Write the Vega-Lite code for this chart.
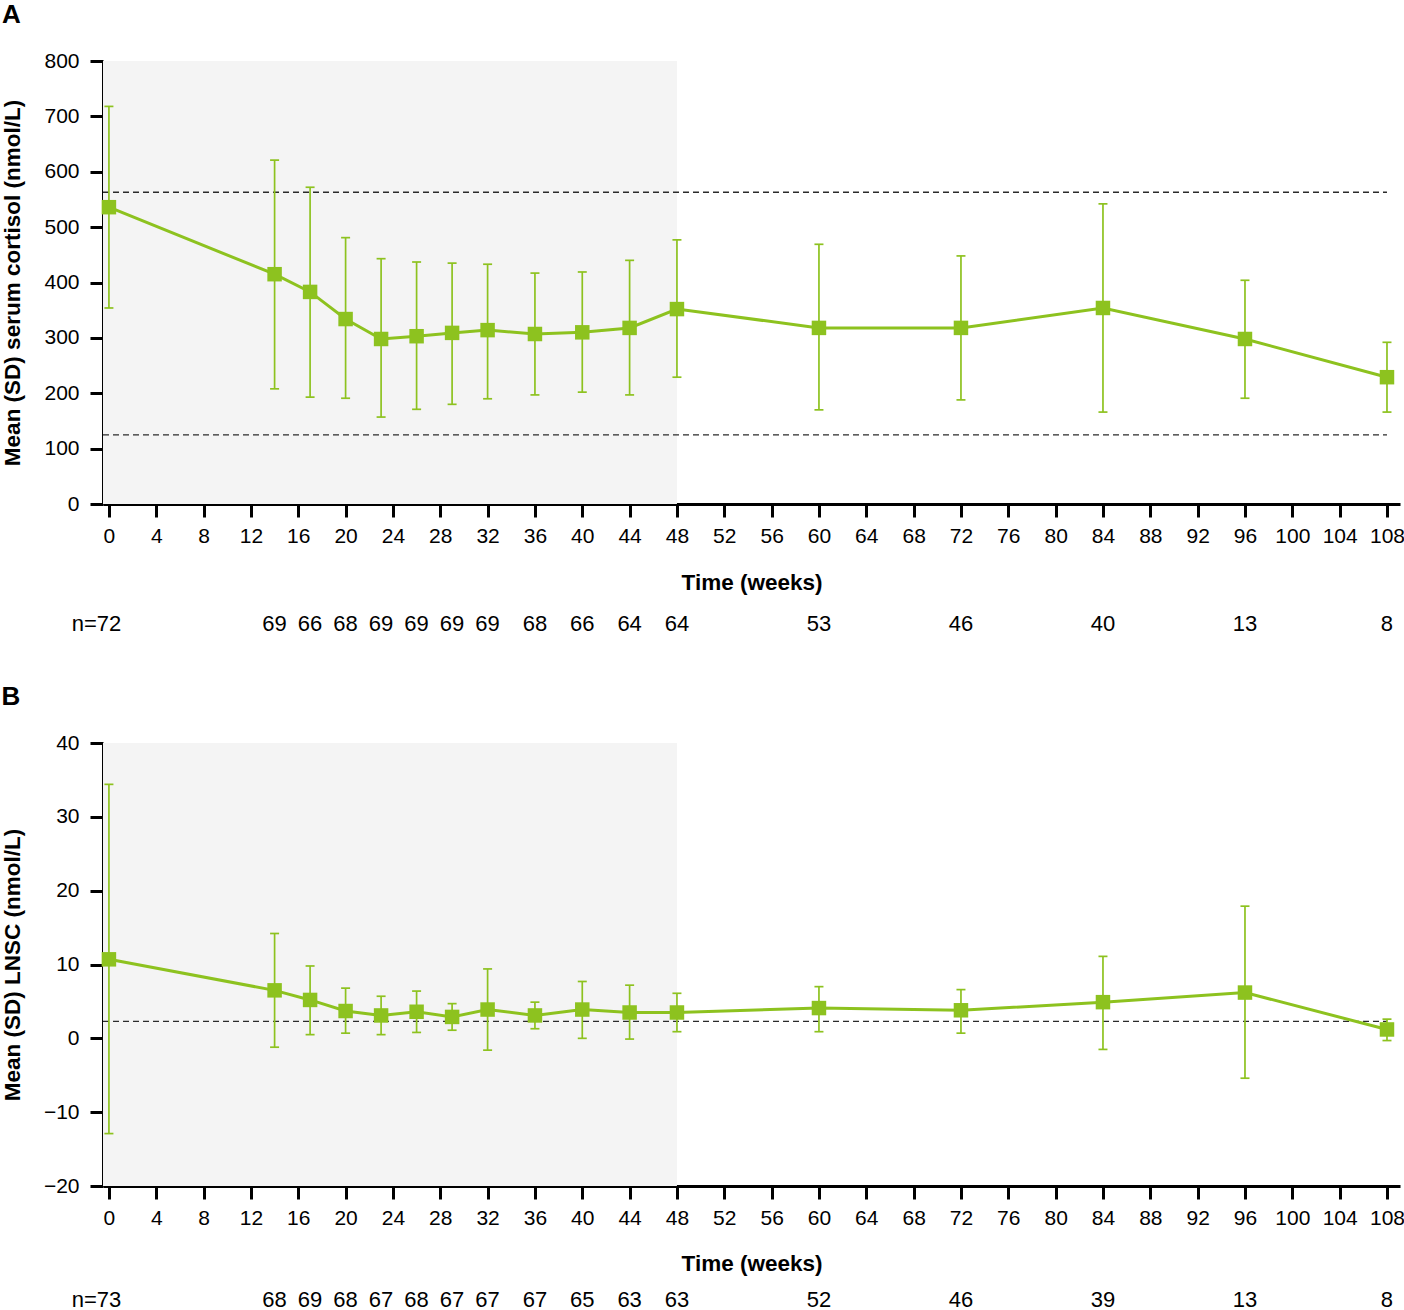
{
  "$schema": "https://vega.github.io/schema/vega-lite/v6.json",
  "background": "white",
  "padding": {"left": 1, "top": 2, "right": 0, "bottom": 0},
  "spacing": 0,
  "config": {
    "font": "Liberation Sans",
    "view": {"stroke": null},
    "axis": {
      "grid": false,
      "domainColor": "black",
      "domainWidth": 3,
      "tickColor": "black",
      "tickWidth": 3,
      "tickSize": 13,
      "labelFontSize": 21,
      "labelColor": "black",
      "labelFont": "Liberation Sans",
      "titleFont": "Liberation Sans",
      "titleFontSize": 22.5,
      "titleFontWeight": "bold",
      "titleColor": "black"
    },
    "title": {"fontSize": 26, "fontWeight": "bold", "anchor": "start", "frame": "bounds", "color": "black", "offset": 22}
  },
  "datasets": {
    "cortisol": [
      {"week": 0, "mean": 536, "lo": 354, "hi": 718, "n": 72},
      {"week": 14, "mean": 415, "lo": 208, "hi": 621, "n": 69},
      {"week": 17, "mean": 383, "lo": 193, "hi": 572, "n": 66},
      {"week": 20, "mean": 334, "lo": 191, "hi": 481, "n": 68},
      {"week": 23, "mean": 298, "lo": 157, "hi": 443, "n": 69},
      {"week": 26, "mean": 303, "lo": 171, "hi": 437, "n": 69},
      {"week": 29, "mean": 309, "lo": 180, "hi": 435, "n": 69},
      {"week": 32, "mean": 314, "lo": 190, "hi": 433, "n": 69},
      {"week": 36, "mean": 307, "lo": 197, "hi": 417, "n": 68},
      {"week": 40, "mean": 310, "lo": 202, "hi": 419, "n": 66},
      {"week": 44, "mean": 318, "lo": 197, "hi": 440, "n": 64},
      {"week": 48, "mean": 352, "lo": 229, "hi": 477, "n": 64},
      {"week": 60, "mean": 318, "lo": 170, "hi": 469, "n": 53},
      {"week": 72, "mean": 318, "lo": 188, "hi": 448, "n": 46},
      {"week": 84, "mean": 354, "lo": 166, "hi": 542, "n": 40},
      {"week": 96, "mean": 298, "lo": 191, "hi": 404, "n": 13},
      {"week": 108, "mean": 229, "lo": 166, "hi": 292, "n": 8}
    ],
    "lnsc": [
      {"week": 0, "mean": 10.7, "lo": -12.9, "hi": 34.4, "n": 73},
      {"week": 14, "mean": 6.5, "lo": -1.2, "hi": 14.2, "n": 68},
      {"week": 17, "mean": 5.2, "lo": 0.5, "hi": 9.8, "n": 69},
      {"week": 20, "mean": 3.7, "lo": 0.7, "hi": 6.8, "n": 68},
      {"week": 23, "mean": 3.1, "lo": 0.5, "hi": 5.7, "n": 67},
      {"week": 26, "mean": 3.6, "lo": 0.8, "hi": 6.4, "n": 68},
      {"week": 29, "mean": 2.9, "lo": 1.1, "hi": 4.7, "n": 67},
      {"week": 32, "mean": 3.9, "lo": -1.6, "hi": 9.4, "n": 67},
      {"week": 36, "mean": 3.1, "lo": 1.3, "hi": 4.9, "n": 67},
      {"week": 40, "mean": 3.9, "lo": 0.0, "hi": 7.7, "n": 65},
      {"week": 44, "mean": 3.5, "lo": -0.1, "hi": 7.2, "n": 63},
      {"week": 48, "mean": 3.5, "lo": 0.9, "hi": 6.1, "n": 63},
      {"week": 60, "mean": 4.1, "lo": 0.9, "hi": 7.0, "n": 52},
      {"week": 72, "mean": 3.8, "lo": 0.7, "hi": 6.6, "n": 46},
      {"week": 84, "mean": 4.9, "lo": -1.5, "hi": 11.1, "n": 39},
      {"week": 96, "mean": 6.2, "lo": -5.4, "hi": 17.9, "n": 13},
      {"week": 108, "mean": 1.2, "lo": -0.3, "hi": 2.6, "n": 8}
    ]
  },
  "vconcat": [
    {
      "title": {"text": "A"},
      "width": 1297,
      "height": 443,
      "layer": [
        {
          "data": {"values": [{"phase": "treatment"}]},
          "mark": {"type": "rect", "fill": "#f4f4f4", "opacity": 1},
          "encoding": {
            "x": {"datum": -0.5, "type": "quantitative", "scale": {"domain": [-0.5, 109.1], "nice": false, "zero": false}},
            "x2": {"datum": 48}
          }
        },
        {
          "data": {"values": [{"ref": 125}, {"ref": 563}]},
          "mark": {"type": "rule", "color": "#2b2b2b", "strokeWidth": 1.3, "strokeDash": [6, 4]},
          "encoding": {
            "x": {"datum": -0.5, "type": "quantitative"},
            "x2": {"datum": 108},
            "y": {"field": "ref", "type": "quantitative"}
          }
        },
        {
          "data": {"name": "cortisol"},
          "mark": {"type": "rule", "color": "#8dc21f", "strokeWidth": 1.7},
          "encoding": {
            "x": {"field": "week", "type": "quantitative"},
            "y": {"field": "lo", "type": "quantitative"},
            "y2": {"field": "hi"}
          }
        },
        {
          "data": {"name": "cortisol"},
          "mark": {"type": "tick", "orient": "horizontal", "color": "#8dc21f", "size": 9, "thickness": 1.7, "opacity": 1},
          "encoding": {
            "x": {"field": "week", "type": "quantitative"},
            "y": {"field": "lo", "type": "quantitative"}
          }
        },
        {
          "data": {"name": "cortisol"},
          "mark": {"type": "tick", "orient": "horizontal", "color": "#8dc21f", "size": 9, "thickness": 1.7, "opacity": 1},
          "encoding": {
            "x": {"field": "week", "type": "quantitative"},
            "y": {"field": "hi", "type": "quantitative"}
          }
        },
        {
          "data": {"name": "cortisol"},
          "mark": {"type": "line", "color": "#8dc21f", "strokeWidth": 3},
          "encoding": {
            "x": {
              "field": "week",
              "type": "quantitative",
              "scale": {"domain": [-0.5, 109.1], "nice": false, "zero": false},
              "axis": {"values": [0, 4, 8, 12, 16, 20, 24, 28, 32, 36, 40, 44, 48, 52, 56, 60, 64, 68, 72, 76, 80, 84, 88, 92, 96, 100, 104, 108], "title": "Time (weeks)", "labelPadding": 8, "titlePadding": 25}
            },
            "y": {
              "field": "mean",
              "type": "quantitative",
              "scale": {"domain": [0, 800], "nice": false},
              "axis": {"values": [0, 100, 200, 300, 400, 500, 600, 700, 800], "title": "Mean (SD) serum cortisol (nmol/L)", "labelPadding": 11, "titlePadding": 19}
            }
          }
        },
        {
          "data": {"name": "cortisol"},
          "mark": {"type": "point", "shape": "square", "filled": true, "size": 210, "color": "#8dc21f", "opacity": 1},
          "encoding": {
            "x": {"field": "week", "type": "quantitative"},
            "y": {"field": "mean", "type": "quantitative"}
          }
        }
      ]
    },
    {
      "width": 1297,
      "height": 90,
      "data": {"name": "cortisol"},
      "layer": [
        {
          "mark": {"type": "text", "fontSize": 22, "dy": -15, "color": "black"},
          "encoding": {
            "x": {"field": "week", "type": "quantitative", "scale": {"domain": [-0.5, 109.1], "nice": false, "zero": false}, "axis": null},
            "text": {"field": "n", "type": "quantitative"}
          }
        },
        {
          "transform": [{"filter": "datum.week === 0"}],
          "mark": {"type": "text", "fontSize": 22, "dy": -15, "dx": -12, "align": "right", "color": "black"},
          "encoding": {
            "x": {"field": "week", "type": "quantitative", "scale": {"domain": [-0.5, 109.1], "nice": false, "zero": false}, "axis": null},
            "text": {"value": "n="}
          }
        }
      ]
    },
    {
      "title": {"text": "B"},
      "width": 1297,
      "height": 443,
      "layer": [
        {
          "data": {"values": [{"phase": "treatment"}]},
          "mark": {"type": "rect", "fill": "#f4f4f4", "opacity": 1},
          "encoding": {
            "x": {"datum": -0.5, "type": "quantitative", "scale": {"domain": [-0.5, 109.1], "nice": false, "zero": false}},
            "x2": {"datum": 48}
          }
        },
        {
          "data": {"values": [{"ref": 2.3}]},
          "mark": {"type": "rule", "color": "#2b2b2b", "strokeWidth": 1.3, "strokeDash": [6, 4]},
          "encoding": {
            "x": {"datum": -0.5, "type": "quantitative"},
            "x2": {"datum": 108},
            "y": {"field": "ref", "type": "quantitative"}
          }
        },
        {
          "data": {"name": "lnsc"},
          "mark": {"type": "rule", "color": "#8dc21f", "strokeWidth": 1.7},
          "encoding": {
            "x": {"field": "week", "type": "quantitative"},
            "y": {"field": "lo", "type": "quantitative"},
            "y2": {"field": "hi"}
          }
        },
        {
          "data": {"name": "lnsc"},
          "mark": {"type": "tick", "orient": "horizontal", "color": "#8dc21f", "size": 9, "thickness": 1.7, "opacity": 1},
          "encoding": {
            "x": {"field": "week", "type": "quantitative"},
            "y": {"field": "lo", "type": "quantitative"}
          }
        },
        {
          "data": {"name": "lnsc"},
          "mark": {"type": "tick", "orient": "horizontal", "color": "#8dc21f", "size": 9, "thickness": 1.7, "opacity": 1},
          "encoding": {
            "x": {"field": "week", "type": "quantitative"},
            "y": {"field": "hi", "type": "quantitative"}
          }
        },
        {
          "data": {"name": "lnsc"},
          "mark": {"type": "line", "color": "#8dc21f", "strokeWidth": 3},
          "encoding": {
            "x": {
              "field": "week",
              "type": "quantitative",
              "scale": {"domain": [-0.5, 109.1], "nice": false, "zero": false},
              "axis": {"values": [0, 4, 8, 12, 16, 20, 24, 28, 32, 36, 40, 44, 48, 52, 56, 60, 64, 68, 72, 76, 80, 84, 88, 92, 96, 100, 104, 108], "title": "Time (weeks)", "labelPadding": 8, "titlePadding": 24}
            },
            "y": {
              "field": "mean",
              "type": "quantitative",
              "scale": {"domain": [-20, 40], "nice": false, "zero": false},
              "axis": {"values": [-20, -10, 0, 10, 20, 30, 40], "title": "Mean (SD) LNSC (nmol/L)", "labelPadding": 11, "titlePadding": 19}
            }
          }
        },
        {
          "data": {"name": "lnsc"},
          "mark": {"type": "point", "shape": "square", "filled": true, "size": 210, "color": "#8dc21f", "opacity": 1},
          "encoding": {
            "x": {"field": "week", "type": "quantitative"},
            "y": {"field": "mean", "type": "quantitative"}
          }
        }
      ]
    },
    {
      "width": 1297,
      "height": 50,
      "data": {"name": "lnsc"},
      "layer": [
        {
          "mark": {"type": "text", "fontSize": 22, "color": "black"},
          "encoding": {
            "x": {"field": "week", "type": "quantitative", "scale": {"domain": [-0.5, 109.1], "nice": false, "zero": false}, "axis": null},
            "text": {"field": "n", "type": "quantitative"}
          }
        },
        {
          "transform": [{"filter": "datum.week === 0"}],
          "mark": {"type": "text", "fontSize": 22, "dx": -12, "align": "right", "color": "black"},
          "encoding": {
            "x": {"field": "week", "type": "quantitative", "scale": {"domain": [-0.5, 109.1], "nice": false, "zero": false}, "axis": null},
            "text": {"value": "n="}
          }
        }
      ]
    }
  ]
}
